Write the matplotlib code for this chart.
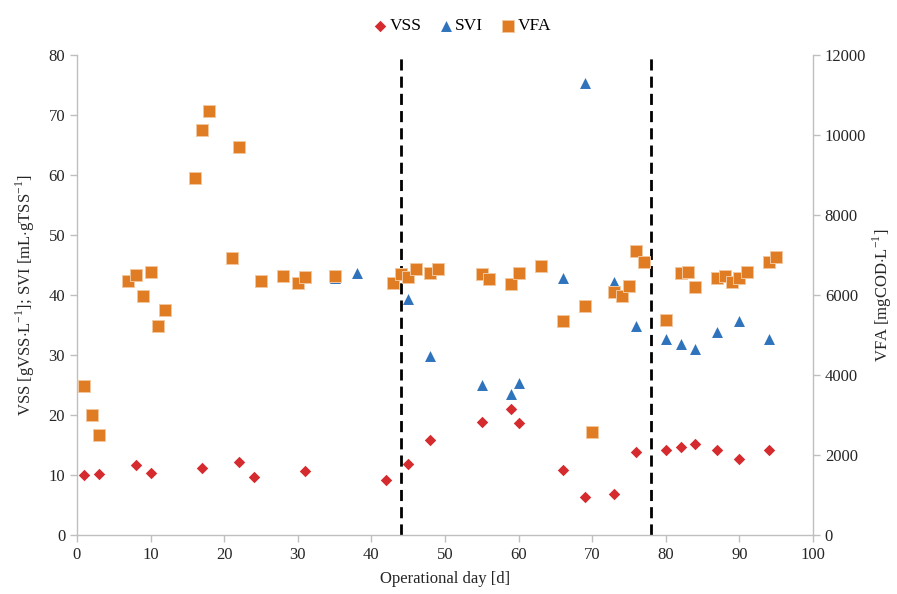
import matplotlib
matplotlib.use("Agg")
import matplotlib.pyplot as plt

# VSS [gVSS/L]
vss_day = [1, 3, 8, 10, 17, 22, 24, 31, 42, 45, 48, 55, 59, 60, 66, 69, 73, 76, 80, 82, 84, 87, 90, 94]
vss = [10.0, 10.1, 11.7, 10.3, 11.1, 12.2, 9.7, 10.6, 9.2, 11.9, 15.9, 18.8, 21.0, 18.6,
       10.9, 6.4, 6.8, 13.8, 14.2, 14.7, 15.1, 14.1, 12.7, 14.2]

# SVI [mL/gTSS]
svi_day = [35, 38, 45, 48, 55, 59, 60, 66, 69, 73, 76, 80, 82, 84, 87, 90, 94]
svi = [42.9, 43.6, 39.3, 29.9, 25.0, 23.5, 25.3, 42.8, 75.3, 42.2, 34.8, 32.6, 31.9,
       31.0, 33.8, 35.7, 32.7]

# VFA [mgCOD/L]
vfa_day = [1, 2, 3, 7, 8, 9, 10, 11, 12, 16, 17, 18, 21, 22, 25, 28, 30, 31, 35,
           43, 44, 45, 46, 48, 49, 55, 56, 59, 60, 63, 66, 69, 70, 73, 74, 75, 76, 77,
           80, 82, 83, 84, 87, 88, 89, 90, 91, 94, 95]
vfa = [3733, 2992, 2492, 6350, 6508, 5975, 6583, 5217, 5625, 8917, 10133, 10608, 6925,
       9700, 6358, 6467, 6308, 6450, 6467,
       6300, 6517, 6458, 6642, 6542, 6642, 6525, 6392, 6283, 6558, 6733, 5342, 5733,
       2567, 6083, 5975, 6233, 7092, 6825,
       5375, 6542, 6567, 6200, 6417, 6483, 6333, 6433, 6567, 6833, 6958]

phase_days = [44, 78]

plt.rcParams["font.family"] = ["Liberation Serif", "DejaVu Serif"]
plt.rcParams["mathtext.fontset"] = "custom"
plt.rcParams["mathtext.rm"] = "Liberation Serif"

spine_color = "#bfbfbf"
text_color = "#262626"

fig = plt.figure(figsize=(8.97, 5.94), dpi=100)
ax = fig.add_axes([0.0858, 0.0993, 0.8206, 0.8081])
ax2 = ax.twinx()

h_vss = ax.scatter(vss_day, vss, marker="D", s=34, color="#d52a2e", linewidths=0, label="VSS", zorder=3)
h_svi = ax.scatter(svi_day, svi, marker="^", s=62, color="#2f73bd", linewidths=0, label="SVI", zorder=3)
h_vfa = ax2.scatter(vfa_day, vfa, marker="s", s=80, color="#e07c24", edgecolors="#f3c79e",
                    linewidths=0.7, label="VFA", zorder=3)

for d in phase_days:
    ax.axvline(d, color="black", linewidth=2.0, dashes=(4, 2.2), zorder=2)

ax.set_xlim(0, 100)
ax.set_ylim(0, 80)
ax2.set_ylim(0, 12000)
ax.set_xticks(range(0, 101, 10))
ax.set_yticks(range(0, 81, 10))
ax2.set_yticks(range(0, 12001, 2000))

for a in (ax, ax2):
    a.spines["top"].set_visible(False)
    for side in ("left", "right", "bottom"):
        a.spines[side].set_color(spine_color)
        a.spines[side].set_linewidth(1.0)
    a.tick_params(colors=spine_color, labelcolor=text_color, labelsize=12, length=5, width=1, direction="out")
ax.spines["right"].set_visible(False)
ax2.spines["left"].set_visible(False)
ax2.spines["bottom"].set_visible(False)

ax.set_xlabel("Operational day [d]", fontsize=12, color=text_color, labelpad=6)
ax.set_ylabel(r"VSS [gVSS$\cdot$L$^{-1}$]; SVI [mL$\cdot$gTSS$^{-1}$]", fontsize=12, color=text_color, labelpad=8)
ax2.set_ylabel(r"VFA [mgCOD$\cdot$L$^{-1}$]", fontsize=12, color=text_color, labelpad=3)

fig.legend(handles=[h_vss, h_svi, h_vfa], labels=["VSS", "SVI", "VFA"], loc="center",
           bbox_to_anchor=(0.514, 0.956), ncol=3, frameon=False, fontsize=12.5,
           handletextpad=0.05, columnspacing=0.9, handlelength=1.0)

fig.savefig("out.png", dpi=100)
